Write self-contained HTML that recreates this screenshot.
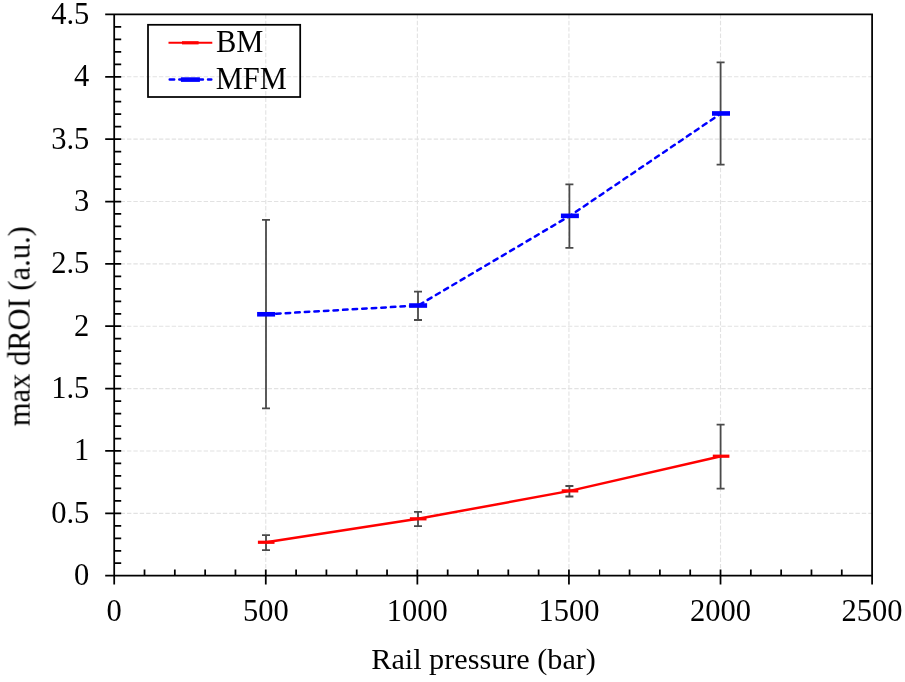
<!DOCTYPE html>
<html><head><meta charset="utf-8"><style>
html,body{margin:0;padding:0;background:#fff;}
svg{display:block;}
text{font-family:"Liberation Serif",serif;font-size:30.5px;fill:#000;}
.g{stroke:#e2e2e2;stroke-width:1.1;stroke-dasharray:4.4 1.99;fill:none;}
.ax{stroke:#000;stroke-width:1.75;fill:none;}
.err{stroke:#4a4a4a;stroke-width:1.8;fill:none;}
.bm{stroke:#ff0000;stroke-width:2.5;fill:none;stroke-linejoin:round;}
.mfm{stroke:#0000ff;stroke-width:2.5;fill:none;stroke-dasharray:4.5 5.08;stroke-dashoffset:-0.45;stroke-linecap:round;stroke-linejoin:round;}
</style></head><body>
<svg width="905" height="682" viewBox="0 0 905 682">
<line x1="114.20" y1="513.34" x2="872.10" y2="513.34" class="g"/>
<line x1="114.20" y1="450.97" x2="872.10" y2="450.97" class="g"/>
<line x1="114.20" y1="388.61" x2="872.10" y2="388.61" class="g"/>
<line x1="114.20" y1="326.24" x2="872.10" y2="326.24" class="g"/>
<line x1="114.20" y1="263.88" x2="872.10" y2="263.88" class="g"/>
<line x1="114.20" y1="201.51" x2="872.10" y2="201.51" class="g"/>
<line x1="114.20" y1="139.15" x2="872.10" y2="139.15" class="g"/>
<line x1="114.20" y1="76.78" x2="872.10" y2="76.78" class="g"/>
<line x1="265.78" y1="14.42" x2="265.78" y2="575.70" class="g"/>
<line x1="417.36" y1="14.42" x2="417.36" y2="575.70" class="g"/>
<line x1="568.94" y1="14.42" x2="568.94" y2="575.70" class="g"/>
<line x1="720.52" y1="14.42" x2="720.52" y2="575.70" class="g"/>
<path d="M114.20 14.42 V584.40 M105.20 575.70 H872.10 M105.20 14.42 H872.10 V584.40" class="ax"/>
<path d="M114.20 563.23H121.20M114.20 550.75H121.20M114.20 538.28H121.20M114.20 525.81H121.20M105.20 513.34H121.20M114.20 500.86H121.20M114.20 488.39H121.20M114.20 475.92H121.20M114.20 463.44H121.20M105.20 450.97H121.20M114.20 438.50H121.20M114.20 426.02H121.20M114.20 413.55H121.20M114.20 401.08H121.20M105.20 388.61H121.20M114.20 376.13H121.20M114.20 363.66H121.20M114.20 351.19H121.20M114.20 338.71H121.20M105.20 326.24H121.20M114.20 313.77H121.20M114.20 301.29H121.20M114.20 288.82H121.20M114.20 276.35H121.20M105.20 263.88H121.20M114.20 251.40H121.20M114.20 238.93H121.20M114.20 226.46H121.20M114.20 213.98H121.20M105.20 201.51H121.20M114.20 189.04H121.20M114.20 176.56H121.20M114.20 164.09H121.20M114.20 151.62H121.20M105.20 139.15H121.20M114.20 126.67H121.20M114.20 114.20H121.20M114.20 101.73H121.20M114.20 89.25H121.20M105.20 76.78H121.20M114.20 64.31H121.20M114.20 51.83H121.20M114.20 39.36H121.20M114.20 26.89H121.20M144.52 575.70V569.40M174.83 575.70V569.40M205.15 575.70V569.40M235.46 575.70V569.40M265.78 584.40V569.40M296.10 575.70V569.40M326.41 575.70V569.40M356.73 575.70V569.40M387.04 575.70V569.40M417.36 584.40V569.40M447.68 575.70V569.40M477.99 575.70V569.40M508.31 575.70V569.40M538.62 575.70V569.40M568.94 584.40V569.40M599.26 575.70V569.40M629.57 575.70V569.40M659.89 575.70V569.40M690.20 575.70V569.40M720.52 584.40V569.40M750.84 575.70V569.40M781.15 575.70V569.40M811.47 575.70V569.40M841.78 575.70V569.40" class="ax"/>
<path d="M266.00 550.13V535.04M262.00 550.13h8M262.00 535.04h8M418.00 526.06V511.84M414.00 526.06h8M414.00 511.84h8M569.40 496.50V486.02M565.40 496.50h8M565.40 486.02h8M720.60 488.64V424.53M716.60 488.64h8M716.60 424.53h8M266.00 408.31V219.85M262.00 408.31h8M262.00 219.85h8M418.00 320.00V291.69M414.00 320.00h8M414.00 291.69h8M569.40 247.78V184.42M565.40 247.78h8M565.40 184.42h8M720.60 164.71V62.31M716.60 164.71h8M716.60 62.31h8" class="err"/>
<polyline points="266.10,542.27 418.10,518.82 569.90,490.88 721.00,456.21" class="bm"/>
<polyline points="266.10,314.27 418.10,305.53 569.90,215.85 721.00,113.45" class="mfm"/>
<rect x="257.90" y="540.67" width="16.6" height="3.2" fill="#ff0000"/>
<rect x="409.90" y="517.22" width="16.6" height="3.2" fill="#ff0000"/>
<rect x="561.70" y="489.28" width="16.6" height="3.2" fill="#ff0000"/>
<rect x="712.80" y="454.61" width="16.6" height="3.2" fill="#ff0000"/>
<rect x="257.10" y="311.97" width="18" height="4.6" fill="#0000ff"/>
<rect x="409.10" y="303.23" width="18" height="4.6" fill="#0000ff"/>
<rect x="560.90" y="213.55" width="18" height="4.6" fill="#0000ff"/>
<rect x="712.00" y="111.15" width="18" height="4.6" fill="#0000ff"/>
<g opacity="0.999">
<text x="89.3" y="585.20" text-anchor="end">0</text>
<text x="89.3" y="522.84" text-anchor="end">0.5</text>
<text x="89.3" y="460.47" text-anchor="end">1</text>
<text x="89.3" y="398.11" text-anchor="end">1.5</text>
<text x="89.3" y="335.74" text-anchor="end">2</text>
<text x="89.3" y="273.38" text-anchor="end">2.5</text>
<text x="89.3" y="211.01" text-anchor="end">3</text>
<text x="89.3" y="148.65" text-anchor="end">3.5</text>
<text x="89.3" y="86.28" text-anchor="end">4</text>
<text x="89.3" y="23.92" text-anchor="end">4.5</text>
<text x="114.20" y="620.8" text-anchor="middle">0</text>
<text x="265.78" y="620.8" text-anchor="middle">500</text>
<text x="417.36" y="620.8" text-anchor="middle">1000</text>
<text x="568.94" y="620.8" text-anchor="middle">1500</text>
<text x="720.52" y="620.8" text-anchor="middle">2000</text>
<text x="872.10" y="620.8" text-anchor="middle">2500</text>
<text x="483.6" y="669.4" text-anchor="middle" style="font-size:30.2px">Rail pressure (bar)</text>
<text transform="translate(29.6 326.2) rotate(-90)" text-anchor="middle">max dROI (a.u.)</text>
<rect x="148" y="24.8" width="152.2" height="72.2" fill="none" stroke="#000" stroke-width="1.75"/>
<line x1="168.5" y1="42.8" x2="212.3" y2="42.8" stroke="#ff0000" stroke-width="2"/>
<rect x="182" y="41.2" width="16.6" height="3.2" fill="#ff0000"/>
<line x1="168.5" y1="79.6" x2="211.3" y2="79.6" class="mfm" style="stroke-dashoffset:-1.2"/>
<rect x="180.9" y="77.3" width="19" height="4.6" fill="#0000ff"/>
<text x="216" y="51.9">BM</text>
<text x="215.7" y="89.1">MFM</text>
</g>
</svg>
</body></html>
